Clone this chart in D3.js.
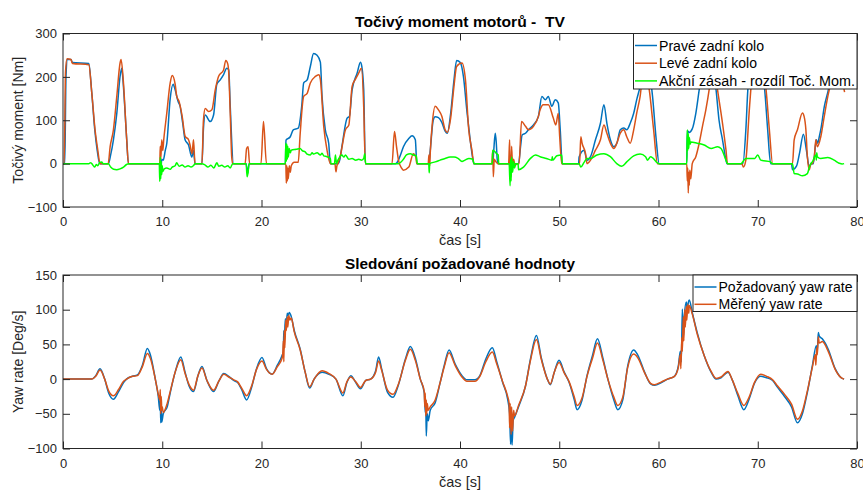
<!DOCTYPE html>
<html>
<head>
<meta charset="utf-8">
<script src="https://cdn.jsdelivr.net/npm/d3@7"></script>
<style>
  body { margin: 0; background: #fff; }
  svg { display: block; }
  text { font-family: "Liberation Sans", Arial, Helvetica, sans-serif; }
</style>
</head>
<body>
<svg id="chart" width="863" height="490"></svg>
<script>
// ---------- data: time [s] vs value ----------
const timeTicks = [0, 10, 20, 30, 40, 50, 60, 70, 80];
const torqueTicks = [-100, 0, 100, 200, 300];
const yawTicks = [-100, -50, 0, 50, 100, 150];

// Torque of the right rear wheel [Nm]
const rightWheel = [
  [0,0],[0.18,0],[0.3,200],[0.45,240],[0.8,240],[0.95,233],[2.6,231],[2.9,163],[3.2,78],[3.45,30],[3.7,0],
  [4.57,0],[4.8,20],[5.08,55],[5.42,116],[5.75,201],[5.92,220],[6.05,190],[6.25,120],[6.42,55],[6.59,0],
  [9.75,0],[9.85,-20],[9.95,10],[10.1,8],[10.3,30],[10.46,47],[10.8,150],[11.1,183],[11.3,170],[11.6,143],[11.8,132],[12.05,95],[12.3,55],[12.65,43],[12.98,15],[13.15,31],[13.3,0],
  [14.0,0],[14.15,80],[14.33,112],[14.83,97],[15.17,112],[15.5,183],[15.84,193],[16.18,205],[16.5,220],[16.7,216],[16.85,132],[17.18,0],
  [18.45,0],[18.6,-23],[18.75,0],
  [22.4,0],[22.47,54],[22.9,62],[23.2,78],[23.7,82],[24.05,132],[24.25,186],[24.6,193],[24.92,224],[25.25,254],[25.6,250],[25.93,234],[26.1,155],[26.43,78],[26.77,47],[26.94,0],
  [27.7,0],[27.9,10],[28.1,39],[28.63,105],[28.86,109],[29.13,170],[29.64,209],[29.97,234],[30.1,225],[30.3,170],[30.46,0],
  [33.5,0],[33.8,8],[34.0,20],[34.3,39],[34.84,58],[35.17,64],[35.5,55],[35.65,0],
  [36.85,0],[37.0,30],[37.3,100],[37.5,108],[37.83,106],[38.17,95],[38.5,75],[38.72,70],[39.06,116],[39.4,194],[39.66,238],[40.03,233],[40.35,200],[40.7,120],[41.0,60],[41.3,10],[41.4,0],
  [43.3,0],[43.4,30],[43.55,70],[43.65,50],[43.75,10],[43.85,0],
  [45.0,0],[45.15,20],[45.3,-10],[45.5,0],[45.9,0],[46.1,39],[46.26,66],[46.6,70],[46.9,78],[47.4,89],[47.9,109],[48.25,155],[48.6,147],[48.9,155],[49.25,132],[49.6,147],[49.9,140],[50.1,78],[50.3,0],
  [51.95,0],[52.0,15],[52.5,31],[52.8,8],[53.15,16],[53.65,55],[54.15,93],[54.5,136],[54.8,93],[55.15,55],[55.5,39],[55.8,47],[56.15,78],[56.5,82],[56.8,78],[57.15,93],[57.5,116],[57.8,147],[58.15,178],[58.6,235],[59.0,220],[59.4,155],[59.75,60],[60.07,0],
  [62.85,0],[62.9,76],[63.08,72],[63.4,80],[63.76,116],[64.1,170],[64.6,245],[64.95,262],[65.4,235],[65.8,170],[66.1,100],[66.45,55],[66.8,8],[66.9,0],
  [68.5,0],[68.8,78],[69.0,170],[69.4,240],[70.0,255],[70.5,210],[70.7,170],[71.0,78],[71.3,0],
  [73.4,0],[73.5,-14],[73.9,-6],[74.2,23],[74.6,68],[74.9,31],[75.2,-8],[75.4,0],
  [75.6,0],[75.9,55],[76.05,47],[76.2,62],[76.4,85],[76.7,131],[77.06,165],[77.5,210],[78.0,240],[78.4,220],[78.75,188]
];

// Torque of the left rear wheel [Nm]
const leftWheel = [
  [0,0],[0.12,0],[0.25,210],[0.4,242],[0.8,240],[0.95,231],[2.6,228],[2.9,163],[3.23,78],[3.5,32],[3.73,0],
  [4.55,0],[4.75,39],[5.08,78],[5.42,155],[5.75,232],[5.85,240],[6.08,190],[6.42,55],[6.6,0],
  [9.75,0],[9.8,40],[9.85,10],[9.95,55],[10.05,30],[10.15,55],[10.46,117],[10.8,186],[11.0,203],[11.3,183],[11.46,155],[11.7,143],[12.0,110],[12.31,63],[12.65,55],[12.8,43],[13.0,23],[13.15,55],[13.3,0],
  [14.0,0],[14.15,100],[14.33,127],[14.67,120],[15.0,124],[15.34,170],[15.67,201],[16.18,216],[16.4,238],[16.6,230],[16.7,209],[16.85,116],[17.0,15],[17.1,0],
  [18.35,0],[18.5,35],[18.65,39],[18.8,0],
  [19.95,0],[20.2,97],[20.5,0],
  [22.45,0],[22.5,-45],[22.55,-5],[22.6,-40],[22.65,-10],[22.7,-35],[22.8,-5],[22.9,-20],[23.0,-5],[23.3,3],[23.7,3],[23.9,70],[24.25,155],[24.6,162],[24.92,186],[25.43,201],[25.77,205],[25.93,194],[26.27,86],[26.6,31],[26.94,0],
  [27.4,0],[27.5,-19],[27.6,-5],[27.7,0],[27.95,19],[28.46,78],[28.8,89],[29.13,178],[29.47,195],[29.8,209],[30.07,220],[30.3,130],[30.46,0],
  [33.15,0],[33.4,74],[33.6,40],[33.8,8],[34.1,-10],[34.3,-15],[34.84,-8],[35.3,23],[35.55,15],[35.65,0],
  [36.8,0],[36.87,20],[36.95,-5],[37.0,23],[37.2,90],[37.5,132],[37.83,124],[38.17,109],[38.5,78],[38.72,72],[39.06,105],[39.4,180],[39.66,224],[40.2,232],[40.55,193],[40.88,78],[41.2,31],[41.4,0],
  [43.2,0],[43.3,30],[43.36,-30],[43.45,10],[43.6,5],[43.8,0],
  [44.9,0],[45.0,55],[45.05,-10],[45.15,-30],[45.2,40],[45.3,-10],[45.4,10],[45.55,-5],[45.7,0],[45.95,0],[46.2,97],[46.6,86],[46.9,78],[47.4,86],[47.9,109],[48.07,124],[48.4,136],[48.9,136],[49.4,105],[49.65,89],[49.9,116],[50.05,60],[50.25,0],
  [52.05,0],[52.17,62],[52.3,47],[52.65,23],[52.8,0],[53.15,8],[53.65,31],[54.15,55],[54.5,89],[54.8,70],[55.15,47],[55.5,35],[55.8,47],[56.15,70],[56.5,78],[56.8,62],[57.15,47],[57.5,78],[57.8,116],[58.15,155],[58.6,240],[58.85,200],[59.07,170],[59.5,80],[59.9,0],
  [62.85,0],[62.9,-40],[62.95,-10],[63.0,-68],[63.05,-20],[63.1,-50],[63.15,-15],[63.25,-35],[63.4,0],[63.76,16],[64.1,47],[64.43,86],[64.77,124],[65.1,170],[65.5,245],[65.95,170],[66.45,93],[66.8,31],[66.95,0],
  [68.4,0],[68.55,-8],[68.8,8],[69.15,124],[69.3,170],[69.8,250],[70.4,232],[70.84,170],[71.17,78],[71.5,0],
  [73.5,0],[73.67,55],[74.0,78],[74.5,117],[74.67,109],[74.85,78],[75.0,16],[75.2,-14],[75.35,0],
  [75.5,0],[75.7,16],[75.85,55],[76.0,39],[76.35,62],[76.7,109],[77.06,155],[77.3,180],[77.8,230],[78.3,210],[78.75,165]
];

// Control action: torque difference [Nm]
const torqueDiff = [
  [0,0],[2.6,0],[2.8,2],[3.0,-3],[3.2,-8],[3.35,-2],[3.5,-5],[3.7,3],[3.9,4],[4.05,0],
  [4.57,0],[4.8,-8],[5.1,-13],[5.4,-14],[5.75,-12],[6.1,-8],[6.4,-2],[6.6,0],
  [9.7,0],[9.75,-41],[9.8,15],[9.85,-35],[9.9,5],[9.95,-25],[10.0,-5],[10.05,-18],[10.2,-12],[10.46,-10],[10.8,-13],[11.0,-8],[11.3,-5],[11.45,2],[11.7,-6],[12.0,-3],[12.3,-8],[12.6,-5],[12.9,-8],[13.2,-3],[13.3,0],
  [13.99,0],[14.3,-3],[14.6,-8],[14.9,-4],[15.2,-10],[15.5,2],[15.7,-6],[16.0,-4],[16.3,-8],[16.6,-5],[16.85,-10],[17.1,0],
  [18.45,0],[18.55,-30],[18.65,-20],[18.75,0],
  [22.4,0],[22.45,47],[22.5,5],[22.55,45],[22.6,10],[22.65,40],[22.7,15],[22.8,35],[22.9,25],[23.0,31],[23.5,33],[23.9,35],[24.1,30],[24.4,27],[24.6,22],[24.92,20],[25.1,25],[25.25,22],[25.6,25],[25.93,20],[26.1,24],[26.27,18],[26.6,16],[26.94,12],[27.0,0],
  [27.35,0],[27.45,20],[27.55,0],[27.7,8],[28.1,20],[28.3,15],[28.46,20],[28.8,10],[29.13,12],[29.5,8],[29.8,10],[30.1,8],[30.3,12],[30.4,23],[30.5,0],
  [33.8,0],[34.3,10],[34.6,20],[35.0,23],[35.3,20],[35.6,18],[35.7,0],
  [36.85,0],[36.9,-21],[36.95,0],[37.5,4],[38.0,8],[38.5,12],[39.0,15],[39.4,15],[39.8,12],[40.2,5],[40.5,8],[40.9,12],[41.3,10],[41.4,0],
  [43.25,0],[43.3,31],[43.5,28],[43.7,23],[43.85,20],[43.9,0],
  [44.95,0],[45.05,-51],[45.1,10],[45.15,-40],[45.2,15],[45.3,-20],[45.4,5],[45.5,-10],[45.6,0],[45.85,0],[45.9,-14],[46.4,-8],[47.1,12],[47.6,20],[48.07,16],[48.7,12],[49.25,8],[49.3,16],[49.35,8],[49.76,18],[50.25,20],[50.3,0],
  [52.0,0],[52.17,-8],[52.5,3],[52.8,12],[53.15,12],[53.8,20],[54.5,23],[55.15,16],[55.8,0],[56.3,-6],[56.8,4],[57.5,18],[58.15,22],[58.7,16],[58.9,8],[59.2,16],[60.07,0],
  [62.85,0],[62.9,78],[62.95,30],[63.0,70],[63.05,35],[63.1,60],[63.2,45],[63.25,50],[63.9,47],[64.6,43],[65.3,35],[65.95,39],[66.3,35],[66.8,8],[66.95,0],
  [68.3,0],[68.8,12],[69.7,12],[70.0,20],[70.3,8],[71.3,4],[71.45,0],
  [73.5,0],[73.67,-23],[74.0,-24],[74.5,-28],[75.0,-23],[75.2,-8],[75.35,0],
  [75.5,4],[75.85,20],[75.9,8],[75.95,25],[76.0,16],[76.35,12],[77.06,14],[77.7,8],[78.2,1],[78.5,-1],[78.7,0]
];

// Requested yaw rate [Deg/s]
const yawRequested = [
  [0,0],[2.9,0],[3.3,5],[3.73,15],[4.2,0],[4.6,-20],[5.08,-29],[5.6,-18],[6.1,-5],[6.4,0],[7.0,4],[7.5,6],[8.0,20],[8.5,44],[8.8,35],[9.3,0],
  [9.6,-25],[9.75,-45],[9.8,-30],[9.85,-63],[9.9,-40],[9.95,-62],[10.1,-50],[10.5,-40],[10.8,-20],[11.3,10],[11.87,32],[12.3,10],[12.7,-10],[13.15,-18],[13.6,5],[14.0,18],
  [14.5,-2],[15.17,-18],[15.7,-3],[16.2,8],[16.7,4],[17.2,-2],[17.6,-5],[18.0,-15],[18.5,-30],[19.0,-12],[19.5,15],[20.05,31],[20.5,15],[21.06,7],[21.6,20],[22.07,34],
  [22.2,40],[22.25,70],[22.3,55],[22.4,87],[22.5,80],[22.6,95],[22.7,92],[22.8,96],[23.0,90],[23.3,70],[23.9,43],[24.4,10],[24.85,-13],[25.3,0],[26.1,10],[26.8,7],
  [27.5,0],[28.2,-24],[28.6,-5],[29.0,5],[29.5,-5],[29.97,-14],[30.5,-2],[31.0,0],[31.5,12],[31.8,32],[32.1,15],[32.7,-19],[33.25,-26],[33.8,-8],[34.5,29],[35.0,47],
  [35.5,30],[36.0,0],[36.4,-20],[36.5,-48],[36.55,-30],[36.6,-82],[36.7,-50],[36.8,-60],[37.0,-45],[37.5,-34],[38.0,-5],[38.4,19],[38.9,42],[39.5,22],[40.2,5],[40.7,-1],
  [41.5,-1],[42.0,5],[42.6,29],[43.26,45],[43.7,25],[44.3,-5],[44.8,-29],[45.0,-50],[45.1,-94],[45.15,-60],[45.25,-95],[45.35,-60],[45.5,-55],[45.9,-40],[46.6,-10],[47.1,29],
  [47.7,63],[48.2,30],[48.8,0],[49.1,-8],[49.5,10],[49.98,27],[50.5,10],[51.0,-5],[51.5,-29],[51.8,-44],[52.3,-30],[52.8,5],[53.35,34],[53.85,58],[54.4,30],[54.9,0],
  [55.5,-30],[55.9,-44],[56.4,-30],[56.9,19],[57.5,42],[57.9,35],[58.6,10],[59.2,-7],[59.6,-9],[60.3,-5],[60.9,0],[61.6,4],[62.0,19],[62.2,40],[62.3,25],[62.4,101],
  [62.5,60],[62.6,90],[62.8,111],[62.9,100],[63.0,110],[63.1,114],[63.4,96],[63.9,67],[64.6,34],[65.3,10],[65.8,0],[66.3,2],[67.0,10],[67.4,0],[68.0,-24],[68.6,-44],
  [69.1,-30],[69.7,-5],[70.3,4],[70.9,2],[71.5,-2],[72.0,-12],[72.7,-25],[73.4,-40],[74.0,-63],[74.5,-50],[75.0,-19],[75.5,19],[75.9,48],[76.0,40],[76.1,67],[76.2,62],
  [76.5,58],[77.1,43],[77.8,15],[78.4,2],[78.7,0]
];

// Measured yaw rate [Deg/s]
const yawMeasured = [
  [0,0],[2.9,0],[3.3,4],[3.73,13],[4.2,0],[4.6,-17],[5.08,-24],[5.6,-15],[6.1,-3],[6.4,0],[7.0,4],[7.5,5],[8.0,18],[8.5,37],[8.8,30],[9.3,0],
  [9.6,-22],[9.75,-30],[9.8,-15],[9.85,-50],[9.9,-25],[9.95,-45],[10.0,-40],[10.1,-48],[10.5,-35],[10.8,-18],[11.3,10],[11.87,28],[12.3,8],[12.7,-8],[13.15,-16],[13.6,5],
  [14.0,16],[14.5,-2],[15.17,-16],[15.7,-3],[16.2,7],[16.7,3],[17.2,-1],[17.6,-4],[18.0,-13],[18.5,-24],[19.0,-10],[19.5,14],[20.05,26],[20.5,14],[21.06,7],[21.6,18],
  [22.07,30],[22.15,38],[22.2,55],[22.25,25],[22.3,70],[22.35,45],[22.45,85],[22.5,70],[22.6,90],[22.65,75],[22.75,92],[22.85,85],[23.0,88],[23.3,68],[23.9,42],[24.4,10],
  [24.85,-11],[25.3,0],[26.1,12],[26.8,8],[27.5,0],[28.2,-20],[28.6,-4],[29.0,3],[29.5,-4],[29.97,-12],[30.5,-2],[31.0,0],[31.5,10],[31.8,26],[32.1,13],[32.7,-16],
  [33.25,-22],[33.8,-7],[34.5,27],[35.0,43],[35.5,27],[36.0,0],[36.4,-18],[36.45,-40],[36.5,-20],[36.55,-53],[36.6,-30],[36.65,-50],[36.7,-35],[36.8,-45],[37.0,-40],[37.5,-30],
  [38.0,-5],[38.4,17],[38.9,38],[39.5,20],[40.2,3],[40.7,-3],[41.5,-3],[42.0,4],[42.6,25],[43.26,39],[43.7,22],[44.3,-4],[44.8,-25],[44.95,-35],[45.0,-70],[45.05,-35],
  [45.15,-80],[45.2,-40],[45.3,-75],[45.4,-45],[45.5,-53],[45.9,-38],[46.6,-10],[47.1,27],[47.7,57],[48.2,28],[48.8,0],[49.1,-7],[49.5,10],[49.98,24],[50.5,9],[51.0,-4],
  [51.5,-25],[51.8,-38],[52.3,-27],[52.8,4],[53.35,30],[53.85,52],[54.4,27],[54.9,0],[55.5,-26],[55.9,-38],[56.4,-26],[56.9,17],[57.5,36],[57.9,31],[58.6,9],[59.2,-6],
  [59.6,-8],[60.3,-4],[60.9,0],[61.6,4],[62.0,17],[62.2,35],[62.25,15],[62.35,60],[62.4,40],[62.5,90],[62.55,55],[62.65,100],[62.7,75],[62.8,105],[62.85,85],[62.95,108],
  [63.05,95],[63.1,106],[63.4,94],[63.9,65],[64.6,34],[65.3,11],[65.8,1],[66.3,3],[67.0,11],[67.4,0],[68.0,-21],[68.6,-38],[69.1,-27],[69.7,-4],[70.3,7],[70.9,4],
  [71.5,-1],[72.0,-10],[72.7,-22],[73.4,-36],[74.0,-58],[74.5,-46],[75.0,-17],[75.5,17],[75.8,35],[75.85,20],[75.95,45],[76.0,35],[76.1,61],[76.2,52],[76.5,54],[77.1,40],
  [77.8,14],[78.4,2],[78.7,0]
];

// ---------- drawing ----------
const svg = d3.select("#chart");
const axisColor = "#262626";
const left = 63, right = 857;

const panels = [
  {
    id: "torque", top: 33.5, bottom: 207, domain: [-100, 300], ticks: torqueTicks,
    title: "Točivý moment motorů -  TV", titleWidth: 210, ylabel: "Točivý moment [Nm]",
    series: [
      { data: rightWheel, color: "#0072BD", name: "Pravé zadní kolo", w: 105 },
      { data: leftWheel, color: "#D95319", name: "Levé zadní kolo", w: 98 },
      { data: torqueDiff, color: "#00FF00", name: "Akční zásah - rozdíl Toč. Mom.", w: 196 }
    ],
    legend: { x: 633.5, h: 55.5, row: 17.7 }
  },
  {
    id: "yaw", top: 275, bottom: 448.5, domain: [-100, 150], ticks: yawTicks,
    title: "Sledování požadované hodnoty", titleWidth: 230, ylabel: "Yaw rate [Deg/s]",
    series: [
      { data: yawRequested, color: "#0072BD", name: "Požadovaný yaw rate", w: 134 },
      { data: yawMeasured, color: "#D95319", name: "Měřený yaw rate", w: 104 }
    ],
    legend: { x: 693, h: 36.5, row: 17.3 }
  }
];

const x = d3.scaleLinear().domain([0, 80]).range([left, right]);

panels.forEach(p => {
  const y = d3.scaleLinear().domain(p.domain).range([p.bottom, p.top]);
  const g = svg.append("g");

  g.append("clipPath").attr("id", "clip-" + p.id)
    .append("rect").attr("x", left).attr("y", p.top)
    .attr("width", right - left).attr("height", p.bottom - p.top);

  // series
  const line = d3.line().x(d => x(d[0])).y(d => y(d[1])).curve(d3.curveMonotoneX);
  const plot = g.append("g").attr("clip-path", `url(#clip-${p.id})`);
  p.series.forEach(s => {
    plot.append("path").datum(s.data)
      .attr("d", line)
      .attr("fill", "none")
      .attr("stroke", s.color)
      .attr("stroke-width", 1.5)
      .attr("stroke-linejoin", "round");
  });

  // axes (ticks pointing inward, box on all four sides)
  const tl = 7;
  g.append("g").attr("transform", `translate(0,${p.bottom})`)
    .call(d3.axisBottom(x).tickValues(timeTicks).tickSizeInner(-tl).tickSizeOuter(0).tickPadding(10).tickFormat(d3.format("d")));
  g.append("g").attr("transform", `translate(0,${p.top})`)
    .call(d3.axisTop(x).tickValues(timeTicks).tickSizeInner(-tl).tickSizeOuter(0).tickFormat(""));
  g.append("g").attr("transform", `translate(${left},0)`)
    .call(d3.axisLeft(y).tickValues(p.ticks).tickSizeInner(-tl).tickSizeOuter(0).tickPadding(6).tickFormat(d3.format("d")));
  g.append("g").attr("transform", `translate(${right},0)`)
    .call(d3.axisRight(y).tickValues(p.ticks).tickSizeInner(-tl).tickSizeOuter(0).tickFormat(""));
  g.selectAll(".domain").remove();
  g.selectAll(".tick line").attr("stroke", axisColor);
  g.selectAll(".tick text").attr("fill", axisColor).style("font-size", "13px")
    .style("font-family", '"Liberation Sans", Arial, sans-serif');

  g.append("rect").attr("x", left).attr("y", p.top)
    .attr("width", right - left).attr("height", p.bottom - p.top)
    .attr("fill", "none").attr("stroke", axisColor).attr("stroke-width", 1);

  // title and labels
  const cx = (left + right) / 2;
  g.append("text").attr("x", cx).attr("y", p.top - 6.5)
    .attr("text-anchor", "middle").attr("font-weight", "bold").attr("font-size", 15.5)
    .attr("textLength", p.titleWidth).attr("lengthAdjust", "spacingAndGlyphs")
    .style("white-space", "pre")
    .attr("fill", "#000").text(p.title);
  g.append("text").attr("x", cx).attr("y", p.bottom + 38)
    .attr("text-anchor", "middle").attr("font-size", 14.5).attr("fill", axisColor).text("čas [s]");
  g.append("text")
    .attr("transform", `translate(23,${(p.top + p.bottom) / 2}) rotate(-90)`)
    .attr("text-anchor", "middle").attr("font-size", 14).attr("fill", axisColor).text(p.ylabel);

  // legend
  const L = p.legend;
  const lg = g.append("g");
  lg.append("rect").attr("x", L.x).attr("y", p.top).attr("width", right - L.x).attr("height", L.h)
    .attr("fill", "#fff").attr("stroke", axisColor).attr("stroke-width", 1);
  p.series.forEach((s, i) => {
    const cy = p.top + 12 + i * L.row;
    lg.append("line").attr("x1", L.x + 1.5).attr("x2", L.x + 23.5).attr("y1", cy).attr("y2", cy)
      .attr("stroke", s.color).attr("stroke-width", 1.5);
    lg.append("text").attr("x", L.x + 25.5).attr("y", cy).attr("dy", "0.36em")
      .attr("font-size", 14).attr("textLength", s.w).attr("lengthAdjust", "spacingAndGlyphs")
      .attr("fill", "#000").text(s.name);
  });
});
</script>
</body>
</html>
